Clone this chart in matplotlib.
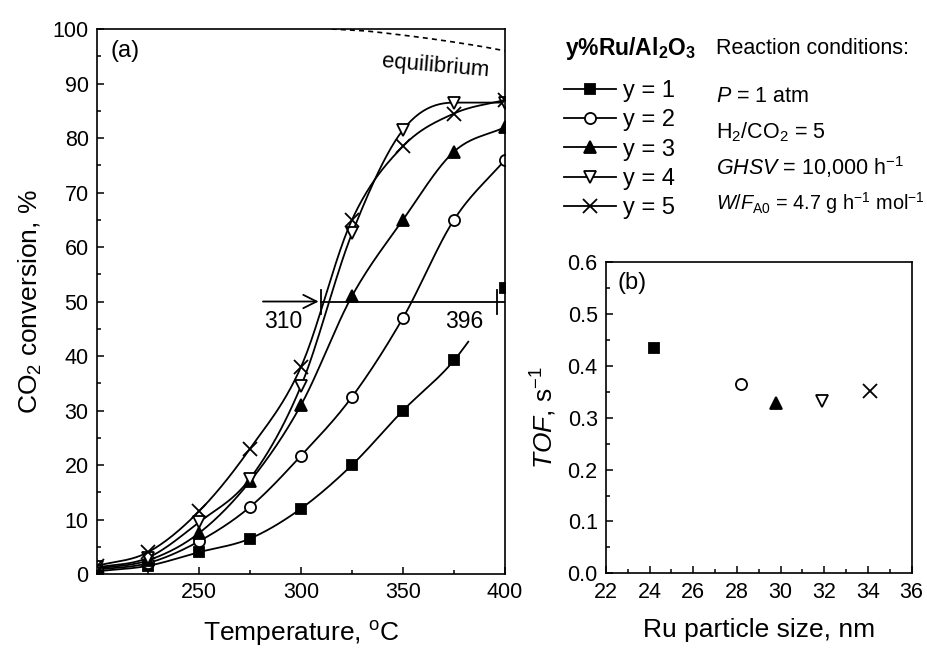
import numpy as np
import matplotlib
matplotlib.use('Agg')
import matplotlib.pyplot as plt
from matplotlib.ticker import MultipleLocator, FormatStrFormatter

plt.rcParams['font.family'] = ['Liberation Sans', 'DejaVu Sans']
plt.rcParams['mathtext.fontset'] = 'custom'
plt.rcParams['mathtext.rm'] = 'Liberation Sans'
plt.rcParams['mathtext.it'] = 'Liberation Sans:italic'
plt.rcParams['mathtext.bf'] = 'Liberation Sans:bold'

# panel (a): CO2 conversion vs temperature
temps = [200, 225, 250, 275, 300, 325, 350, 375, 400]
conv_y1 = [0.5, 1.5, 4.0, 6.5, 12.0, 20.0, 30.0, 39.2, 52.5]
conv_y2 = [0.8, 2.0, 6.0, 12.3, 21.7, 32.5, 47.0, 65.0, 76.0]
conv_y3 = [1.0, 2.5, 7.5, 17.0, 31.0, 51.0, 65.0, 77.5, 82.0]
conv_y4 = [1.2, 3.0, 9.5, 17.5, 34.5, 62.5, 81.5, 86.5, 86.5]
conv_y5 = [1.5, 4.0, 11.5, 23.0, 38.0, 65.0, 78.5, 84.5, 87.0]
eq_temps = [315, 330, 345, 360, 375, 390, 400]
eq_conv = [100.0, 99.7, 99.1, 98.4, 97.6, 96.7, 96.0]

# panel (b): TOF vs particle size
sizes = [24.2, 28.2, 29.8, 31.9, 34.1]
tof = [0.434, 0.365, 0.329, 0.332, 0.351]

labels = ['y = 1', 'y = 2', 'y = 3', 'y = 4', 'y = 5']
markers = ['s', 'o', '^', 'v', 'x']
fills = ['k', 'w', 'k', 'w', 'k']
sizes_m = [7, 8, 8.5, 9, 10]


def smooth(x, y, n=25):
    # monotone-ish cubic hermite curve through the points, for drawing only
    x = np.asarray(x, float)
    y = np.asarray(y, float)
    d = np.diff(y) / np.diff(x)
    m = np.gradient(y, x)
    for i in range(1, len(x) - 1):
        lim = 3 * min(abs(d[i - 1]), abs(d[i]))
        if d[i - 1] * d[i] <= 0:
            m[i] = 0.0
        else:
            m[i] = np.sign(m[i]) * min(abs(m[i]), lim)
    xs, ys = [], []
    t = np.linspace(0, 1, n, endpoint=False)
    for i in range(len(x) - 1):
        h = x[i + 1] - x[i]
        h00 = 2*t**3 - 3*t**2 + 1
        h10 = t**3 - 2*t**2 + t
        h01 = -2*t**3 + 3*t**2
        h11 = t**3 - t**2
        xs.append(x[i] + t*h)
        ys.append(h00*y[i] + h10*h*m[i] + h01*y[i + 1] + h11*h*m[i + 1])
    xs.append([x[-1]])
    ys.append([y[-1]])
    return np.concatenate(xs), np.concatenate(ys)


fig = plt.figure(figsize=(9.28, 6.48), dpi=100)
axa = fig.add_axes([0.1045, 0.1142, 0.4397, 0.841])
axb = fig.add_axes([0.653, 0.1153, 0.3294, 0.48])

series = [conv_y1, conv_y2, conv_y3, conv_y4, conv_y5]
handles = []
for k, vals in enumerate(series):
    sx, sy = smooth(temps, vals)
    if k == 0:
        keep = sx <= 382
        sx, sy = sx[keep], sy[keep]
    axa.plot(sx, sy, color='k', lw=1.3)
    axa.plot(temps, vals, linestyle='none', marker=markers[k], ms=sizes_m[k],
             mfc=fills[k], mec='k', mew=1.3)
    h, = axa.plot([], [], color='k', lw=1.3, marker=markers[k], ms=sizes_m[k],
                  mfc=fills[k], mec='k', mew=1.3)
    handles.append(h)

ex, ey = smooth(eq_temps, eq_conv)
axa.plot(ex, ey, 'k--', lw=1.2, dashes=(3, 2.5))
axa.text(366, 93.2, 'equilibrium', fontsize=16, rotation=-5, ha='center', va='center')

# 50 % conversion marker
axa.annotate('', xy=(310, 50), xytext=(280, 50),
             arrowprops=dict(arrowstyle='->', color='k', lw=1.3, mutation_scale=24))
axa.plot([310, 400], [50, 50], color='k', lw=1.3)
axa.plot([310, 310], [47.8, 52.2], color='k', lw=1.3)
axa.plot([396, 396], [47.8, 52.2], color='k', lw=1.3)
axa.text(291.5, 46.3, '310', fontsize=16.5, ha='center', va='center')
axa.text(380, 46.3, '396', fontsize=16.5, ha='center', va='center')
axa.text(214, 96, '(a)', fontsize=17, ha='center', va='center')

axa.set_xlim(200, 400)
axa.set_ylim(0, 100)
axa.set_xticks([250, 300, 350, 400])
axa.xaxis.set_minor_locator(MultipleLocator(25))
axa.yaxis.set_major_locator(MultipleLocator(10))
axa.yaxis.set_minor_locator(MultipleLocator(5))
axa.set_xlabel('Temperature, $^\\mathrm{o}$C', fontsize=19, labelpad=11)
axa.set_ylabel('CO$_2$ conversion, %', fontsize=19, labelpad=6)

for k in range(5):
    axb.plot(sizes[k], tof[k], linestyle='none', marker=markers[k], ms=sizes_m[k],
             mfc=fills[k], mec='k', mew=1.3)
axb.text(23.2, 0.56, '(b)', fontsize=17, ha='center', va='center')
axb.set_xlim(22, 36)
axb.set_ylim(0, 0.6)
axb.xaxis.set_major_locator(MultipleLocator(2))
axb.xaxis.set_minor_locator(MultipleLocator(1))
axb.yaxis.set_major_locator(MultipleLocator(0.1))
axb.yaxis.set_minor_locator(MultipleLocator(0.05))
axb.yaxis.set_major_formatter(FormatStrFormatter('%.1f'))
axb.set_xlabel('Ru particle size, nm', fontsize=19, labelpad=11)
axb.set_ylabel('$\\mathit{TOF}$, s$^{-1}$', fontsize=19, labelpad=6)

for ax in (axa, axb):
    ax.tick_params(which='both', direction='in', top=False, right=False,
                   labelsize=15.5, width=1.1)
    ax.tick_params(which='major', length=5, pad=6)
    ax.tick_params(which='minor', length=3)
    for s in ax.spines.values():
        s.set_linewidth(1.2)

fig.text(565/928, 1 - 48/648, 'y%Ru/Al$_\\mathbf{2}$O$_\\mathbf{3}$', fontsize=16.5,
         fontweight='bold', ha='left', va='center')
fig.legend(handles, labels, loc='upper left', bbox_to_anchor=(564/928, 1 - 80/648),
           frameon=False, fontsize=17, handlelength=2.2, handletextpad=0.3,
           labelspacing=0.31, borderpad=0, borderaxespad=0)

cond = ['Reaction conditions:', '$\\mathit{P}$ = 1 atm', 'H$_2$/CO$_2$ = 5',
        '$\\mathit{GHSV}$ = 10,000 h$^{-1}$',
        '$\\mathit{W/F}_\\mathrm{A0}$ = 4.7 g h$^{-1}$ mol$^{-1}$']
cond_y = [48, 97, 132, 167, 203]
cond_fs = [15.5, 15.5, 15.5, 15.5, 14.3]
for txt, yy, fs in zip(cond, cond_y, cond_fs):
    fig.text(716/928, 1 - yy/648, txt, fontsize=fs, ha='left', va='center')

fig.savefig('out.png', dpi=100)
